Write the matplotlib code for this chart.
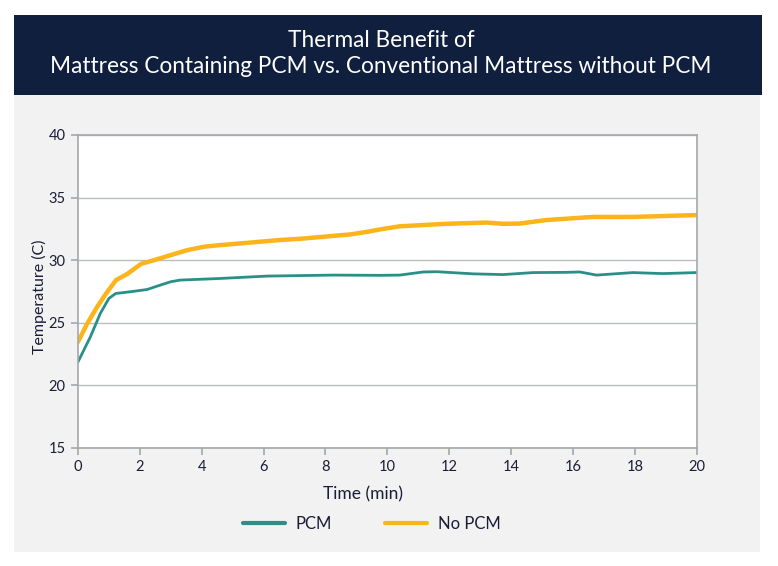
import matplotlib
matplotlib.use("Agg")
import matplotlib.pyplot as plt
from matplotlib.patches import Rectangle

# 読み取ったデータ
time_pcm = [0, 0.4, 0.72, 1.0, 1.22, 1.7, 2.24, 2.56, 3.0, 3.3, 4.6, 6.1, 8.25,
            9.76, 10.4, 11.16, 11.6, 12.77, 13.74, 14.71, 15.8, 16.22, 16.76,
            17.94, 18.9, 20]
temp_pcm = [21.86, 23.86, 25.73, 26.94, 27.33, 27.47, 27.65, 27.92, 28.27, 28.4,
            28.53, 28.72, 28.8, 28.78, 28.8, 29.05, 29.07, 28.9, 28.84, 29.0,
            29.02, 29.05, 28.8, 29.0, 28.92, 29.0]

time_nopcm = [0, 0.3, 0.62, 0.9, 1.23, 1.6, 2.04, 2.47, 3.0, 3.54, 4.08, 4.6, 5.1,
              6.5, 7.17, 8.79, 9.33, 9.76, 10.4, 11.9, 13.2, 13.74, 14.28, 15.14,
              16.65, 17.94, 20]
temp_nopcm = [23.46, 24.93, 26.26, 27.3, 28.4, 28.9, 29.7, 30.0, 30.4, 30.8, 31.07,
              31.2, 31.3, 31.6, 31.7, 32.05, 32.25, 32.45, 32.7, 32.9, 33.0, 32.9,
              32.92, 33.2, 33.45, 33.45, 33.6]

xticks = list(range(0, 21, 2))
yticks = [15, 20, 25, 30, 35, 40]

NAVY = "#0f1f3d"
TEAL = "#2a9087"
GOLD = "#fbb41a"
TXT = "#1b1d36"

plt.rcParams['font.family'] = ['Lato', 'DejaVu Sans']

W, H = 778, 566
fig = plt.figure(figsize=(W / 100, H / 100), dpi=100)
fig.patch.set_facecolor("white")

# 背景パネルとタイトル帯
fig.add_artist(Rectangle((14 / W, 1 - 552 / H), (760 - 14) / W, (552 - 95) / H,
                         transform=fig.transFigure, facecolor="#f2f2f2", edgecolor="none", zorder=0))
fig.add_artist(Rectangle((14 / W, 1 - 95 / H), (762 - 14) / W, (95 - 15) / H,
                         transform=fig.transFigure, facecolor=NAVY, edgecolor="none", zorder=0))
fig.text(381 / W, 1 - 46.7 / H, "Thermal Benefit of", color="white",
         ha="center", va="baseline", fontsize=16.3)
fig.text(381 / W, 1 - 73.3 / H, "Mattress Containing PCM vs. Conventional Mattress without PCM",
         color="white", ha="center", va="baseline", fontsize=16.3)

ax = fig.add_axes([78 / W, 1 - 447.7 / H, (696.7 - 78) / W, (447.7 - 135) / H])
ax.set_facecolor("white")
ax.plot(time_pcm, temp_pcm, color=TEAL, lw=2, label="PCM", solid_capstyle="round")
ax.plot(time_nopcm, temp_nopcm, color=GOLD, lw=3.2, label="No PCM", solid_capstyle="round")

ax.set_xlim(0, 20)
ax.set_ylim(15, 40)
ax.set_xticks(xticks)
ax.set_yticks(yticks)
ax.grid(axis="y", color="#b9bdc0", lw=1)
ax.set_axisbelow(True)
for s in ax.spines.values():
    s.set_color("#a3a8ac")
    s.set_linewidth(1.2)
ax.tick_params(colors="#a3a8ac", labelcolor=TXT, labelsize=10.5, length=5, width=1.2, pad=4)

fig.text(39 / W, 1 - 297 / H, "Temperature (C)", rotation=90, fontsize=11.5,
         color=TXT, ha="center", va="center")
fig.text(363 / W, 1 - 494 / H, "Time (min)", fontsize=12.5, color=TXT, ha="center", va="center")

leg = fig.legend(loc="center", bbox_to_anchor=(372 / W, 1 - 524 / H), ncol=2, frameon=False,
                 fontsize=12, handlelength=2.5, columnspacing=3.2, handletextpad=0.66)
for t in leg.get_texts():
    t.set_color(TXT)
for h in leg.get_lines():
    h.set_linewidth(3)

plt.savefig("out.png", dpi=100)
